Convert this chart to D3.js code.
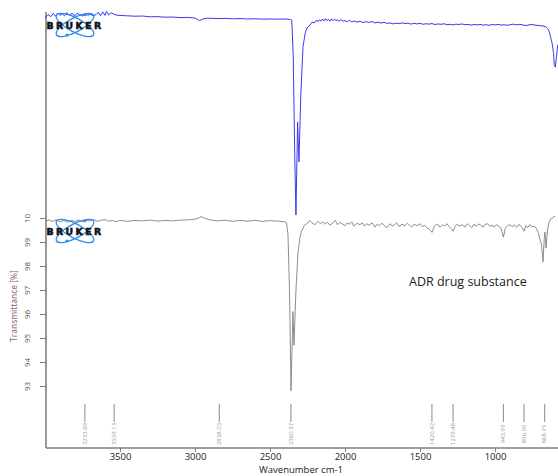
<!DOCTYPE html>
<html><head><meta charset="utf-8">
<script src="https://cdn.jsdelivr.net/npm/d3@7/dist/d3.min.js"></script>
<style>body{margin:0;background:#fff}svg{display:block}</style>
</head><body>
<svg id="c" width="558" height="476"></svg>
<script>
// ---- data ----
const xTicks = [3500, 3000, 2500, 2000, 1500, 1000];
const yTicks = [100, 99, 98, 97, 96, 95, 94, 93];
const yTickLabels = ["10", "99", "98", "97", "96", "95", "94", "93"];
const peakLabels = [3733.89, 3539.13, 2838.03, 2360.57, 1420.42, 1279.48, 943.97, 806.50, 668.75];
const sampleLabel = "ADR drug substance";

// gray spectrum (sample): wavenumber, transmittance %
const grayWn = [4000,3975,3950,3925,3900,3875,3850,3825,3800,3775,3750,3725,3700,3675,3650,3625,3600,3575,3550,3525,3500,3450,3400,3350,3300,3250,3200,3150,3100,3050,3000,2975,2960,2945,2930,2900,2850,2800,2750,2700,2650,2600,2550,2500,2450,2400,2390,2380,2370,2360,2347,2340,2327,2313,2300,2290,2270,2250,2235,2220,2200,2180,2165,2150,2135,2120,2100,2080,2065,2050,2035,2020,2000,1985,1970,1955,1940,1920,1900,1885,1870,1855,1840,1820,1800,1785,1770,1755,1740,1720,1700,1685,1670,1655,1640,1620,1600,1585,1570,1555,1540,1520,1500,1485,1470,1455,1440,1420,1405,1390,1380,1365,1350,1335,1320,1305,1295,1279,1265,1250,1240,1220,1200,1185,1170,1155,1140,1125,1110,1095,1080,1065,1050,1035,1020,1005,990,975,960,944,930,915,900,885,870,855,840,820,806,795,780,770,755,740,727,712,700,690,680,672,667,660,650,640,630,620,600];
const grayT = [99.85,99.92,99.86,99.93,99.84,99.9,99.82,99.9,99.86,99.92,99.83,99.9,99.88,99.94,99.86,99.91,99.93,99.87,99.9,99.85,99.9,99.86,99.9,99.88,99.91,99.87,99.9,99.88,99.91,99.92,99.95,100.0,100.06,100.02,99.98,99.92,99.88,99.91,99.86,99.9,99.87,99.9,99.86,99.89,99.87,99.84,99.8,99.3,97.0,92.8,96.1,94.7,97.0,98.6,99.2,99.45,99.7,99.78,99.9,99.8,99.72,99.86,99.76,99.84,99.74,99.83,99.7,99.8,99.9,99.72,99.82,99.76,99.68,99.8,99.74,99.84,99.66,99.78,99.72,99.8,99.66,99.76,99.7,99.8,99.62,99.74,99.68,99.78,99.7,99.6,99.76,99.66,99.72,99.8,99.64,99.74,99.68,99.78,99.7,99.62,99.74,99.68,99.76,99.64,99.7,99.6,99.55,99.4,99.66,99.74,99.7,99.62,99.72,99.66,99.76,99.64,99.58,99.45,99.68,99.74,99.66,99.72,99.62,99.76,99.68,99.6,99.74,99.66,99.75,99.7,99.62,99.74,99.76,99.66,99.7,99.62,99.72,99.66,99.58,99.2,99.6,99.68,99.72,99.64,99.7,99.62,99.74,99.6,99.45,99.68,99.6,99.72,99.64,99.65,99.6,99.4,99.1,98.9,98.17,99.1,99.42,98.75,99.5,99.83,99.95,100.0,100.08];

// blue spectrum (reference, own scale, relative %)
const blueWn = [4000,3980,3960,3945,3930,3915,3900,3885,3870,3855,3840,3820,3800,3785,3770,3750,3730,3715,3700,3680,3660,3645,3630,3615,3600,3590,3575,3560,3540,3520,3500,3450,3400,3350,3300,3250,3200,3150,3100,3050,3000,2985,2970,2950,2920,2880,2840,2800,2750,2700,2650,2600,2550,2500,2450,2400,2370,2355,2345,2335,2327,2316,2307,2295,2280,2265,2253,2233,2220,2205,2190,2180,2170,2160,2150,2140,2130,2120,2110,2100,2090,2080,2070,2060,2050,2040,2030,2015,2000,1985,1970,1955,1940,1920,1900,1880,1860,1840,1820,1800,1780,1760,1740,1720,1700,1680,1660,1640,1620,1600,1580,1560,1540,1520,1500,1480,1460,1440,1420,1400,1380,1360,1340,1320,1300,1280,1260,1240,1220,1200,1180,1160,1140,1120,1100,1080,1060,1040,1020,1000,980,960,940,920,900,880,860,840,820,800,780,760,740,720,700,680,660,650,640,630,620,610,605,598,590,582];
const blueT = [99.5,101.2,100.2,101.8,100.4,102.0,100.8,101.6,100.6,102.2,101.0,101.8,100.6,102.0,101.2,100.5,101.6,100.8,101.4,100.6,101.2,102.4,100.6,102.6,100.8,102.8,101.0,102.2,101.4,100.9,100.8,100.6,100.4,100.5,100.1,100.2,99.9,100.0,99.7,99.8,99.5,98.8,98.2,98.9,99.4,99.3,99.2,99.3,99.1,99.2,99.0,99.1,98.9,99.0,98.9,99.0,98.8,98.4,80,30,0,47,26.8,60,85,92,94.4,96,97.4,97.0,98.5,97.6,98.6,97.9,99.0,98.0,99.2,98.2,98.8,97.9,99.1,98.1,98.9,98.2,98.6,97.8,98.7,97.9,98.2,97.6,98.3,97.5,98.0,97.4,97.9,97.2,97.6,97.3,97.7,97.0,97.4,96.9,97.3,96.8,97.0,96.5,96.9,96.6,97.0,96.7,96.9,96.4,96.8,96.5,96.8,96.3,96.6,96.4,96.7,96.2,96.5,96.3,96.6,96.1,96.3,96.0,96.4,96.2,96.5,96.1,96.3,95.9,96.2,96.0,96.3,95.9,96.1,95.8,96.2,96.0,96.3,95.9,96.1,95.8,96.1,96.4,96.0,96.3,96.1,95.7,95.9,96.2,96.0,95.8,95.6,95.5,95.0,94.2,93.0,90.0,87.0,82.0,76.0,74.7,80.0,86.0,88.4];

// ---- chart ----
const svg = d3.select("#c");
const x = d3.scaleLinear().domain([4000, 580]).range([45, 558]);
const y = d3.scaleLinear().domain([100, 93]).range([218, 386]);
const yBlue = d3.scaleLinear().domain([0, 100]).range([215, 17]);
const axisColor = "#7f7f7f";
const font = "Open Sans, sans-serif";

// axes lines
svg.append("line").attr("x1", 46).attr("x2", 46).attr("y1", 12).attr("y2", 448)
  .attr("stroke", axisColor).attr("stroke-width", 1.6);
svg.append("line").attr("x1", 46).attr("x2", 558).attr("y1", 448).attr("y2", 448)
  .attr("stroke", axisColor).attr("stroke-width", 1.6);

// x axis
const xAxis = d3.axisBottom(x).tickValues(xTicks).tickSize(4).tickPadding(1).tickFormat(d3.format("d"));
const gx = svg.append("g").attr("transform", "translate(0,448)").call(xAxis);
gx.select(".domain").remove();
gx.selectAll(".tick line").attr("stroke", axisColor);
gx.selectAll(".tick text").attr("fill", "#222").attr("font-family", font).attr("font-size", 9.5);

svg.append("text").attr("x", 259).attr("y", 472.5).attr("text-anchor", "start")
  .attr("font-family", font).attr("font-size", 9.5).attr("fill", "#222")
  .text("Wavenumber cm-1");

// y axis
const yAxis = d3.axisLeft(y).tickValues(yTicks).tickSize(6).tickFormat((d, i) => yTickLabels[i]);
const gy = svg.append("g").attr("transform", "translate(46,0)").call(yAxis);
gy.select(".domain").remove();
gy.selectAll(".tick line").attr("stroke", axisColor);
gy.selectAll(".tick text").attr("x", -18).attr("dy", 0).attr("transform", "rotate(-90,-18,0)")
  .attr("text-anchor", "middle").attr("dominant-baseline", "middle")
  .attr("fill", "#555").attr("font-family", font).attr("font-size", 8);

svg.append("text").attr("transform", "translate(15,306) rotate(-90)").attr("text-anchor", "middle")
  .attr("dominant-baseline", "middle")
  .attr("font-family", font).attr("font-size", 8.5).attr("fill", "#7a6070")
  .text("Transmittance [%]");

// peak markers
const pk = svg.append("g").selectAll("g").data(peakLabels).join("g")
  .attr("transform", d => `translate(${x(d)},0)`);
pk.append("line").attr("y1", 404).attr("y2", 422).attr("stroke", "#8a8a8a").attr("stroke-width", 1);
pk.append("text").attr("transform", "translate(0,434) rotate(-90)").attr("text-anchor", "middle")
  .attr("dominant-baseline", "middle")
  .attr("font-family", font).attr("font-size", 6).attr("fill", "#999")
  .text(d => d.toFixed(2));

// spectra
const grayLine = d3.line().x(d => x(d[0])).y(d => y(d[1]));
svg.append("path").datum(d3.zip(grayWn, grayT)).attr("d", grayLine)
  .attr("fill", "none").attr("stroke", "#808080").attr("stroke-width", 0.9);

const blueLine = d3.line().x(d => x(d[0])).y(d => yBlue(d[1]));
svg.append("path").datum(d3.zip(blueWn, blueT)).attr("d", blueLine)
  .attr("fill", "none").attr("stroke", "#3a3af0").attr("stroke-width", 1);

// Bruker logos
function logo(cx, cy) {
  const g = svg.append("g").attr("transform", `translate(${cx},${cy})`);
  [-28, 28].forEach(a => {
    g.append("ellipse").attr("rx", 21).attr("ry", 7).attr("transform", `rotate(${a})`)
      .attr("fill", "none").attr("stroke", "#2a8cf0").attr("stroke-width", 1.3);
  });
  g.append("circle").attr("cx", -8).attr("cy", 10).attr("r", 1.6).attr("fill", "#2a8cf0");
  g.append("circle").attr("cx", 10).attr("cy", -10).attr("r", 1.3).attr("fill", "#2a8cf0");
  g.append("text").attr("x", 0).attr("y", 3.5).attr("text-anchor", "middle")
    .attr("font-family", "DejaVu Sans, sans-serif").attr("font-weight", "bold")
    .attr("font-size", 8.5).attr("letter-spacing", 2.2).attr("fill", "#111")
    .attr("stroke", "#111").attr("stroke-width", 0.5)
    .attr("textLength", 57).attr("lengthAdjust", "spacingAndGlyphs")
    .text("BRUKER");
}
logo(75, 25);
logo(75, 231);

// sample label
svg.append("text").attr("x", 409).attr("y", 286)
  .attr("font-family", font).attr("font-size", 12.5).attr("fill", "#222")
  .text(sampleLabel);
</script>
</body></html>
